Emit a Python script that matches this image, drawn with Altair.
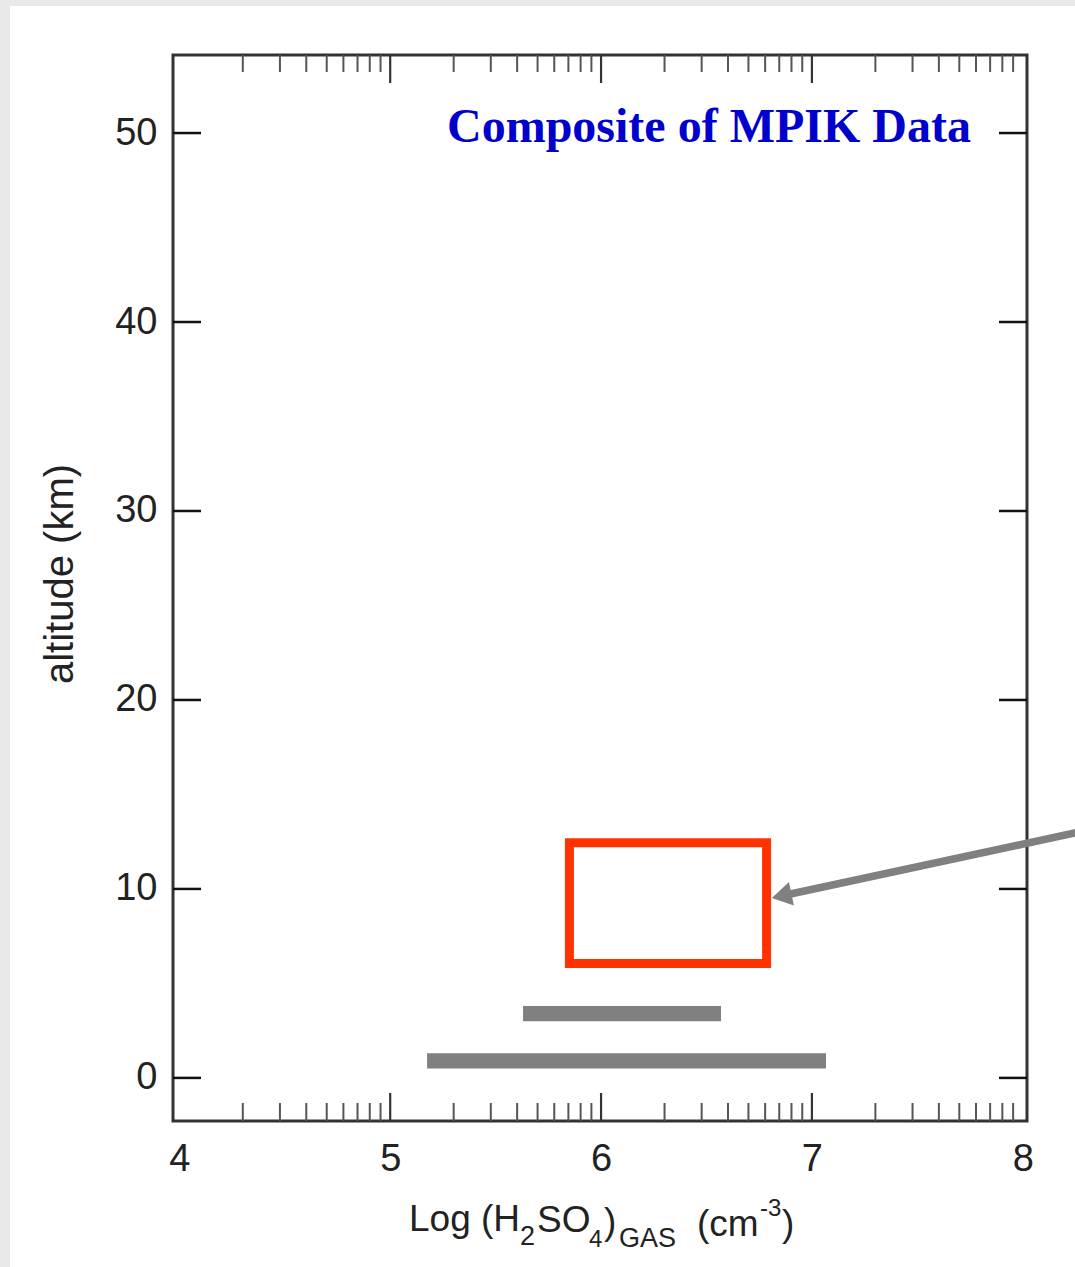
import math

import altair as alt
import pandas as pd

# ---- axis ranges: log10 H2SO4 number density vs altitude (km) ----
x_domain = [3.97, 8.02]
y_domain = [-2.28, 54.13]

x_label_values = [4, 5, 6, 7, 8]
y_label_values = [0, 10, 20, 30, 40, 50]

# frame ticks (log decades on the concentration axis)
x_major_ticks = [5, 6, 7]
decades = [4, 5, 6, 7]
minor_multipliers = [2, 3, 4, 5, 6, 7, 8, 9]

# ---- measured ranges (gray bars) ----
bar_log_low = [5.175, 5.63]
bar_log_high = [7.067, 6.569]
bar_alt_low = [0.5, 3.0]
bar_alt_high = [1.3, 3.8]

# ---- highlighted region (red box) ----
box_log = [5.85, 6.785]
box_alt = [6.05, 12.45]

# ---- pointer arrow: tail, end of shaft, tip ----
arrow_log = [8.3, 6.876]
arrow_alt = [13.09, 9.68]
arrow_tip_log = [6.81]
arrow_tip_alt = [9.52]

W, H = 854, 1066
PAD = {"left": 173, "top": 55, "right": 48, "bottom": 146}

SANS = "Liberation Sans"
SERIF = "Liberation Serif"
INK = "#222222"
GRAY = "#808080"

x_scale = alt.Scale(domain=x_domain, nice=False, zero=False)
y_scale = alt.Scale(domain=y_domain, nice=False, zero=False)

x_axis = alt.Axis(values=x_label_values, format="d", title=None, ticks=False,
                  domain=False, grid=False, labelFont=SANS, labelFontSize=38,
                  labelColor=INK, labelPadding=19, labelFlush=False,
                  labelOverlap=False)
y_axis = alt.Axis(values=y_label_values, format="d", title=None, ticks=False,
                  domain=False, grid=False, labelFont=SANS, labelFontSize=38,
                  labelColor=INK, labelPadding=16, labelOverlap=False)


def X(field):
    return alt.X(field, type="quantitative", scale=x_scale, axis=x_axis)


def Y(field):
    return alt.Y(field, type="quantitative", scale=y_scale, axis=y_axis)


one = pd.DataFrame({"k": [0]})

# page margin strips
strip_top = alt.Chart(one).mark_rect(color="#e9e9e9").encode(
    x=alt.value(-PAD["left"]), x2=alt.value(W + PAD["right"]),
    y=alt.value(-PAD["top"]), y2=alt.value(-PAD["top"] + 6))
strip_left = alt.Chart(one).mark_rect(color="#e9e9e9").encode(
    x=alt.value(-PAD["left"]), x2=alt.value(-PAD["left"] + 10),
    y=alt.value(-PAD["top"]), y2=alt.value(H + PAD["bottom"]))

# gray measurement bars
bars_df = pd.DataFrame({"lo": bar_log_low, "hi": bar_log_high,
                        "a0": bar_alt_low, "a1": bar_alt_high})
bars = alt.Chart(bars_df).mark_rect(color=GRAY).encode(
    x=X("lo"), x2="hi", y=Y("a0"), y2="a1")

# red box
box_df = pd.DataFrame({"lo": [box_log[0]], "hi": [box_log[1]],
                       "a0": [box_alt[0]], "a1": [box_alt[1]]})
box = alt.Chart(box_df).mark_rect(fillOpacity=0, stroke="#ff3300",
                                  strokeWidth=9).encode(
    x=X("lo"), x2="hi", y=Y("a0"), y2="a1")

# arrow shaft and head
shaft_df = pd.DataFrame({"x0": [arrow_log[0]], "x1": [arrow_log[1]],
                         "y0": [arrow_alt[0]], "y1": [arrow_alt[1]]})
shaft = alt.Chart(shaft_df).mark_rule(color=GRAY, strokeWidth=7.5,
                                      strokeCap="butt", clip=False).encode(
    x=X("x0"), x2="x1", y=Y("y0"), y2="y1")
head_df = pd.DataFrame({"x": arrow_tip_log, "y": arrow_tip_alt})
head = alt.Chart(head_df).mark_point(shape="M0,0 L-1.2,2 L1.2,2 Z",
                                     filled=True, color=GRAY, size=400,
                                     angle=258, opacity=1, strokeWidth=0,
                                     clip=False).encode(
    x=X("x"), y=Y("y"))

# frame ticks
minor_ticks = [d + math.log10(m) for d in decades for m in minor_multipliers]
yt = pd.DataFrame({"v": y_label_values})
xt_major = pd.DataFrame({"v": x_major_ticks})
xt_minor = pd.DataFrame({"v": minor_ticks})

left_ticks = alt.Chart(yt).mark_rule(color="#111111", strokeWidth=2.5).encode(
    y=Y("v"), x=alt.value(0), x2=alt.value(28))
right_ticks = alt.Chart(yt).mark_rule(color="#111111", strokeWidth=2.5).encode(
    y=Y("v"), x=alt.value(W - 28), x2=alt.value(W))
top_major = alt.Chart(xt_major).mark_rule(color="#333333", strokeWidth=2.2).encode(
    x=X("v"), y=alt.value(0), y2=alt.value(28))
top_minor = alt.Chart(xt_minor).mark_rule(color="#555555", strokeWidth=2).encode(
    x=X("v"), y=alt.value(0), y2=alt.value(17))
bottom_major = alt.Chart(xt_major).mark_rule(color="#333333", strokeWidth=2.2).encode(
    x=X("v"), y=alt.value(H - 28), y2=alt.value(H))
bottom_minor = alt.Chart(xt_minor).mark_rule(color="#555555", strokeWidth=2).encode(
    x=X("v"), y=alt.value(H - 18), y2=alt.value(H))


def label(text, px, py, size, **kw):
    return alt.Chart(one).mark_text(text=text, font=SANS, fontSize=size,
                                    color=INK, align="left",
                                    baseline="alphabetic", **kw).encode(
        x=alt.value(px), y=alt.value(py))


# panel heading
heading = alt.Chart(one).mark_text(
    text="Composite of MPIK Data", font=SERIF, fontSize=48, fontWeight="bold",
    color="#0000cc", align="left", baseline="alphabetic").encode(
    x=alt.value(274), y=alt.value(87))

# axis titles with sub/superscripts
x_title = [
    label("Log (H", 236, 1176, 37),
    label("2", 347, 1190, 27),
    label("SO", 364, 1177, 37),
    label("4", 416, 1192, 24),
    label(")", 431, 1179, 37),
    label("GAS", 446, 1192, 27),
    label("(cm", 524, 1181, 37),
    label("-3", 587, 1161, 24),
    label(")", 609, 1181, 37),
]
y_title = alt.Chart(one).mark_text(
    text="altitude (km)", font=SANS, fontSize=40, color=INK, angle=270,
    align="center", baseline="alphabetic").encode(
    x=alt.value(-100), y=alt.value(519))

chart = alt.layer(
    strip_top, strip_left,
    bars, box, shaft, head,
    left_ticks, right_ticks, top_major, top_minor, bottom_major, bottom_minor,
    heading, y_title, *x_title,
).properties(
    width=W, height=H, autosize="none", padding=PAD, background="white",
).configure_view(stroke="#333333", strokeWidth=3)

chart.save("out.html", embed_options={"renderer": "svg", "actions": False})
